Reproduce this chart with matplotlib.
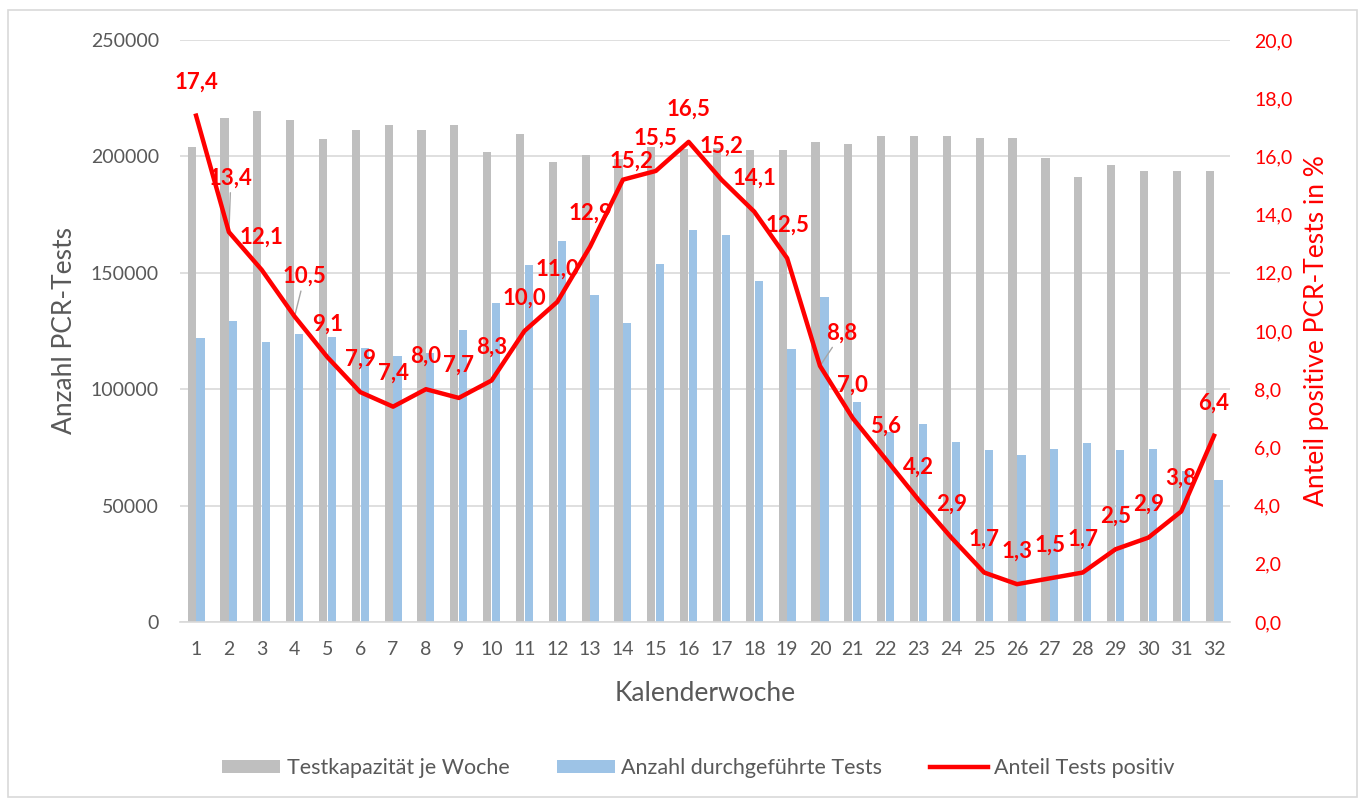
import matplotlib.pyplot as plt
from matplotlib.patches import Rectangle
import numpy as np

plt.rcParams['font.family'] = ['Lato', 'DejaVu Sans']

wochen = list(range(1, 33))
kapazitaet = [204000, 216500, 219500, 215600, 207500, 211300, 213500, 211300,
              213500, 201900, 209600, 197600, 200600, 199000, 204000, 203000,
              203500, 202700, 202700, 206000, 205300, 208800, 208800, 208800,
              207900, 207900, 199300, 191200, 196300, 193700, 193700, 193700]
durchgefuehrt = [122000, 129300, 120300, 123700, 122400, 117700, 114300, 115500,
                 125400, 137000, 153300, 163700, 140500, 128600, 153800, 168400,
                 166200, 146500, 117300, 139600, 94600, 81600, 85000, 77300,
                 73900, 71700, 74300, 76900, 73900, 74300, 64900, 61000]
positiv = [17.4, 13.4, 12.1, 10.5, 9.1, 7.9, 7.4, 8.0, 7.7, 8.3, 10.0, 11.0,
           12.9, 15.2, 15.5, 16.5, 15.2, 14.1, 12.5, 8.8, 7.0, 5.6, 4.2, 2.9,
           1.7, 1.3, 1.5, 1.7, 2.5, 2.9, 3.8, 6.4]

grau = '#bfbfbf'
blau = '#9dc3e6'
rot = '#ff0000'
text_grau = '#595959'

fig = plt.figure(figsize=(13.64, 8.0), dpi=100)
fig.patches.append(Rectangle((0.006, 0.004), 0.989, 0.984, transform=fig.transFigure,
                             fill=False, edgecolor='#d9d9d9', linewidth=1.2))
ax = fig.add_axes([0.1317, 0.2225, 0.7704, 0.7275])

x = np.array(wochen)
ax.bar(x - 0.135, kapazitaet, width=0.25, color=grau, label='Testkapazität je Woche', zorder=2)
ax.bar(x + 0.135, durchgefuehrt, width=0.25, color=blau, label='Anzahl durchgeführte Tests', zorder=2)

ax.set_xlim(0.5, 32.5)
ax.set_ylim(0, 250000)
ax.set_yticks(range(0, 250001, 50000))
ax.set_xticks(wochen)
ax.grid(axis='y', color='#d9d9d9', linewidth=1.2, zorder=0)
ax.set_axisbelow(True)
for s in ['top', 'right', 'left']:
    ax.spines[s].set_visible(False)
ax.spines['bottom'].set_color('#d9d9d9')
ax.spines['bottom'].set_linewidth(1.2)
ax.tick_params(axis='both', length=0, colors=text_grau, labelsize=14)
ax.tick_params(axis='y', pad=15)
ax.tick_params(axis='x', pad=14)
ax.set_xlabel('Kalenderwoche', fontsize=19, color=text_grau, labelpad=16)
ax.set_ylabel('Anzahl PCR-Tests', fontsize=19, color=text_grau, labelpad=10)

ax2 = ax.twinx()
ax2.plot(x, positiv, color=rot, linewidth=3.2, label='Anteil Tests positiv', zorder=5)
ax2.set_ylim(0, 20)
ax2.set_yticks(np.arange(0, 20.1, 2))
ax2.set_yticklabels([f'{v:.1f}'.replace('.', ',') for v in np.arange(0, 20.1, 2)])
for s in ax2.spines.values():
    s.set_visible(False)
ax2.tick_params(axis='y', length=0, colors=rot, labelsize=14, pad=17)
ax2.set_ylabel('Anteil positive PCR-Tests in %', fontsize=19, color=rot, labelpad=8)

# Datenbeschriftungen (in Pixeln relativ zum Punkt)
mit_linie = {2: (2, 54), 4: (10, 40), 20: (22, 33)}
verschoben = {14: (9, 18)}
for w, v in zip(wochen, positiv):
    txt = f'{v:.1f}'.replace('.', ',')
    if w in mit_linie:
        dx, dy = mit_linie[w]
        ax2.annotate(txt, (w, v), xytext=(dx * 0.72, dy * 0.72), textcoords='offset points',
                     ha='center', va='center', color=rot, fontsize=16, fontweight='bold',
                     arrowprops=dict(arrowstyle='-', color='#a6a6a6', lw=1,
                                     shrinkA=1, shrinkB=2), zorder=4)
    else:
        dx, dy = verschoben.get(w, (0, 33))
        ax2.annotate(txt, (w, v), xytext=(dx * 0.72, dy * 0.72), textcoords='offset points',
                     ha='center', va='center', color=rot, fontsize=16, fontweight='bold',
                     zorder=4)

h1, l1 = ax.get_legend_handles_labels()
h2, l2 = ax2.get_legend_handles_labels()
leg = fig.legend(h1 + h2, l1 + l2, loc='center', bbox_to_anchor=(0.512, 0.04), ncol=3,
                 frameon=False, fontsize=15.5, handlelength=2.7, handleheight=0.6,
                 columnspacing=2.2, handletextpad=0.3)
for t in leg.get_texts():
    t.set_color(text_grau)

plt.savefig('out.png', dpi=100)
